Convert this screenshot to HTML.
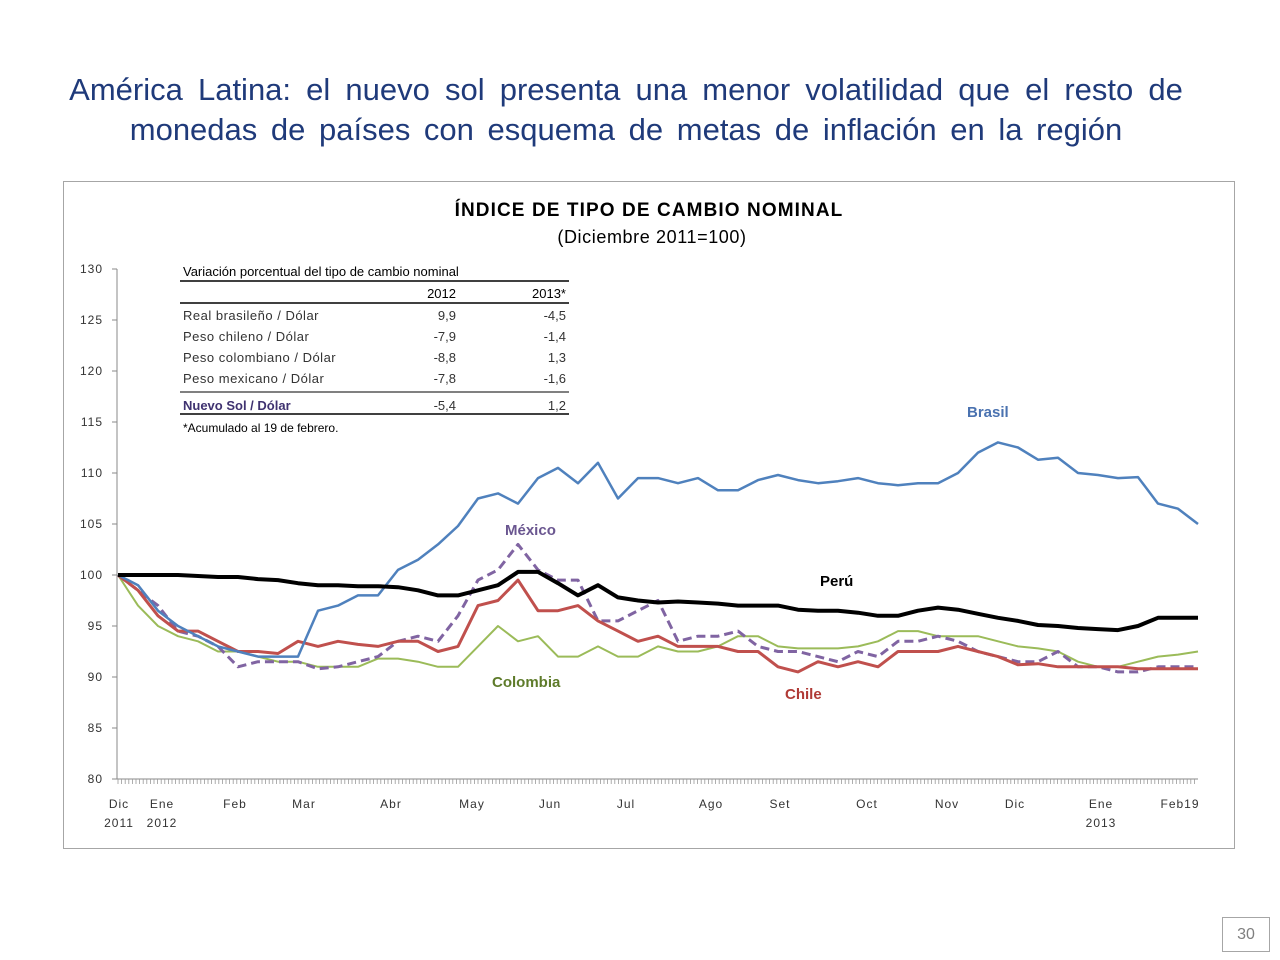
<!DOCTYPE html>
<html><head><meta charset="utf-8">
<style>
body{margin:0;width:1280px;height:960px;background:#fff;font-family:"Liberation Sans",sans-serif;position:relative;overflow:hidden}
.t{position:absolute;left:0;width:1252px;text-align:center;color:#1F3A7A;font-size:31px}
#box{position:absolute;left:63px;top:181px;width:1170px;height:666px;border:1px solid #A6A6A6}
.pn{position:absolute;left:1222px;top:917px;width:46px;height:33px;border:1px solid #A6A6A6;color:#7F7F7F;font-size:16px;text-align:center;line-height:33px}
</style></head><body>
<div class="t" style="top:72px;word-spacing:6.5px">América Latina: el nuevo sol presenta una menor volatilidad que el resto de</div>
<div class="t" style="top:112px;word-spacing:5px">monedas de países con esquema de metas de inflación en la región</div>
<div id="box"></div>
<div class="pn">30</div>
<svg id="chart" width="1280" height="960" style="position:absolute;left:0;top:0" font-family="Liberation Sans, sans-serif">
<text x="649" y="216" text-anchor="middle" font-size="19" font-weight="bold" fill="#000" letter-spacing="1.1">ÍNDICE DE TIPO DE CAMBIO NOMINAL</text>
<text x="652" y="243" text-anchor="middle" font-size="18" fill="#000" letter-spacing="0.6">(Diciembre 2011=100)</text>
<g id="axes"></g>
<g id="table" font-size="13" fill="#333">
<text x="183" y="276" fill="#000">Variación porcentual del tipo de cambio nominal</text>
<line x1="180" y1="281" x2="569" y2="281" stroke="#000" stroke-width="1.5"/>
<text x="456" y="298" text-anchor="end" fill="#000">2012</text>
<text x="566" y="298" text-anchor="end" fill="#000">2013*</text>
<line x1="180" y1="303" x2="569" y2="303" stroke="#000" stroke-width="1.5"/>
<text x="183" y="320" letter-spacing="0.5">Real brasileño / Dólar</text><text x="456" y="320" text-anchor="end">9,9</text><text x="566" y="320" text-anchor="end">-4,5</text>
<text x="183" y="341" letter-spacing="0.5">Peso chileno / Dólar</text><text x="456" y="341" text-anchor="end">-7,9</text><text x="566" y="341" text-anchor="end">-1,4</text>
<text x="183" y="362" letter-spacing="0.5">Peso colombiano / Dólar</text><text x="456" y="362" text-anchor="end">-8,8</text><text x="566" y="362" text-anchor="end">1,3</text>
<text x="183" y="383" letter-spacing="0.5">Peso mexicano / Dólar</text><text x="456" y="383" text-anchor="end">-7,8</text><text x="566" y="383" text-anchor="end">-1,6</text>
<line x1="180" y1="392" x2="569" y2="392" stroke="#000" stroke-width="1"/>
<text x="183" y="410" font-weight="bold" fill="#3F3270">Nuevo Sol / Dólar</text><text x="456" y="410" text-anchor="end">-5,4</text><text x="566" y="410" text-anchor="end">1,2</text>
<line x1="180" y1="414" x2="569" y2="414" stroke="#000" stroke-width="1.5"/>
<text x="183" y="432" font-size="12" fill="#000">*Acumulado al 19 de febrero.</text>
</g>
<g id="series"></g>
<g font-size="15" font-weight="bold">
<text x="967" y="417" fill="#4A72B0">Brasil</text>
<text x="505" y="535" fill="#6A5690">México</text>
<text x="820" y="586" fill="#000">Perú</text>
<text x="492" y="687" fill="#5E7B2A">Colombia</text>
<text x="785" y="699" fill="#B03A36">Chile</text>
</g>
</svg>
<script>
const weeks = Array.from({length:55},(_,i)=>i);
const yTicks = [80,85,90,95,100,105,110,115,120,125,130];
const monthLabels = ["Dic","Ene","Feb","Mar","Abr","May","Jun","Jul","Ago","Set","Oct","Nov","Dic","Ene","Feb19"];
const monthPos = [0.05,2.2,5.85,9.3,13.65,17.7,21.6,25.4,29.65,33.1,37.45,41.45,44.85,49.15,53.1];
const yearLabels = ["2011","2012","2013"];
const yearPos = [0.05,2.2,49.15];
const peru = [100,100,100,100,99.9,99.8,99.8,99.6,99.5,99.2,99,99,98.9,98.9,98.8,98.5,98,98,98.5,99,100.3,100.3,99.2,98,99,97.8,97.5,97.3,97.4,97.3,97.2,97,97,97,96.6,96.5,96.5,96.3,96,96,96.5,96.8,96.6,96.2,95.8,95.5,95.1,95,94.8,94.7,94.6,95,95.8,95.8,95.8];
const brasil = [100,99,96.5,95,94,93,92.5,92,92,92,96.5,97,98,98,100.5,101.5,103,104.8,107.5,108,107,109.5,110.5,109,111,107.5,109.5,109.5,109,109.5,108.3,108.3,109.3,109.8,109.3,109,109.2,109.5,109,108.8,109,109,110,112,113,112.5,111.3,111.5,110,109.8,109.5,109.6,107,106.5,105];
const chile = [100,98.5,96,94.5,94.5,93.5,92.5,92.5,92.3,93.5,93,93.5,93.2,93,93.5,93.5,92.5,93,97,97.5,99.5,96.5,96.5,97,95.5,94.5,93.5,94,93,93,93,92.5,92.5,91,90.5,91.5,91,91.5,91,92.5,92.5,92.5,93,92.5,92,91.2,91.3,91,91,91,91,90.8,90.8,90.8,90.8];
const mexico = [100,98.5,97,94.5,94,93,91,91.5,91.5,91.5,90.8,91,91.5,92,93.5,94,93.5,96,99.5,100.5,103,100.5,99.5,99.5,95.5,95.5,96.5,97.5,93.5,94,94,94.5,93,92.5,92.5,92,91.5,92.5,92,93.5,93.5,94,93.5,92.5,92,91.5,91.5,92.5,91,91,90.5,90.5,91,91,91];
const colombia = [100,97,95,94,93.5,92.5,92.5,92,91.5,91.5,91,91,91,91.8,91.8,91.5,91,91,93,95,93.5,94,92,92,93,92,92,93,92.5,92.5,93,94,94,93,92.8,92.8,92.8,93,93.5,94.5,94.5,94,94,94,93.5,93,92.8,92.5,91.5,91,91,91.5,92,92.2,92.5];

const X0=118,X1=1198,Y0=779,Y1=269;
const xs=t=>X0+(X1-X0)*t/54;
const ys=v=>Y0-(v-80)*(Y0-Y1)/50;
const NS="http://www.w3.org/2000/svg";
function mk(tag,attrs,parent){const e=document.createElementNS(NS,tag);for(const k in attrs)e.setAttribute(k,attrs[k]);parent.appendChild(e);return e;}
const ax=document.getElementById('axes');
const yAxis=mk('line',{x1:117,y1:Y1,x2:117,y2:Y0,stroke:'#888'},ax);


const xAxis=mk('line',{x1:117,y1:Y0,x2:X1,y2:Y0,stroke:'#888'},ax);


yTicks.forEach(v=>{
  mk('line',{x1:112,y1:ys(v),x2:117,y2:ys(v),stroke:'#888'},ax);
  const t=mk('text',{x:103,y:ys(v)+4,'text-anchor':'end','font-size':12,fill:'#333','letter-spacing':'1'},ax);
  t.textContent=v;
  
  
});
for(let x=X0;x<=X1;x+=3.6){mk('line',{x1:x,y1:Y0,x2:x,y2:Y0+5,stroke:'#999','stroke-width':0.8},ax);}
monthLabels.forEach((m,i)=>{
  const t=mk('text',{x:xs(monthPos[i]),y:808,'text-anchor':'middle','font-size':12,fill:'#333','letter-spacing':'1'},ax);
  t.textContent=m;
  
  
});
yearLabels.forEach((m,i)=>{
  const t=mk('text',{x:xs(yearPos[i]),y:827,'text-anchor':'middle','font-size':12,fill:'#333','letter-spacing':'1'},ax);
  t.textContent=m;
  
  
});
const sg=document.getElementById('series');
function line(arr,color,w,dash,name){
  const d=arr.map((v,i)=>(i?'L':'M')+xs(weeks[i]).toFixed(1)+','+ys(v).toFixed(1)).join('');
  const p=mk('path',{d:d,fill:'none',stroke:color,'stroke-width':w,'stroke-linejoin':'round'},sg);
  if(dash)p.setAttribute('stroke-dasharray',dash);
  
  
}
line(colombia,'#9BBB59',2,null,'line-colombia');
line(mexico,'#8064A2',3,'9,5','line-mexico');
line(chile,'#C0504D',3,null,'line-chile');
line(brasil,'#4F81BD',2.5,null,'line-brasil');
line(peru,'#000',4,null,'line-peru');
</script>
</body></html>
